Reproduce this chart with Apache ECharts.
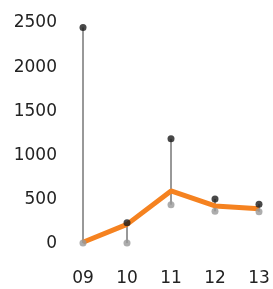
<!DOCTYPE html>
<html><head><meta charset="utf-8">
<script src="https://cdn.jsdelivr.net/npm/echarts@6/dist/echarts.min.js"></script>
<style>html,body{margin:0;padding:0;background:#fff}#c{width:273px;height:289px}</style>
</head><body><div id="c"></div>
<script>
var categories = ['09','10','11','12','13'];
var highValues = [2450, 240, 1190, 510, 450];
var lowValues = [10, 10, 445, 370, 365];
var lineValues = [20, 222, 600, 430, 400];
var yTicks = [0, 500, 1000, 1500, 2000, 2500];

var chart = echarts.init(document.getElementById('c'), null, {renderer:'canvas'});
var font = 'DejaVu Sans';
chart.setOption({
  animation:false,
  grid:{left:83, right:14, top:23, bottom:45},
  xAxis:{type:'category', data:categories, boundaryGap:false,
    axisLine:{show:false}, axisTick:{show:false},
    axisLabel:{fontFamily:font, fontSize:17, color:'#222', margin:26}},
  yAxis:{type:'value', min:yTicks[0], max:yTicks[yTicks.length-1], interval:500,
    axisLine:{show:false}, axisTick:{show:false}, splitLine:{show:false},
    axisLabel:{fontFamily:font, fontSize:17, color:'#222', margin:26,
      formatter:function(v){return String(v);}}},
  series:[
    {type:'custom', z:1,
      data: categories.map(function(c,i){return [i, lowValues[i], highValues[i]];}),
      renderItem:function(params, api){
        var p1 = api.coord([api.value(0), api.value(1)]);
        var p2 = api.coord([api.value(0), api.value(2)]);
        return {type:'line', shape:{x1:p1[0], y1:p1[1], x2:p2[0], y2:p2[1]},
          style:{stroke:'#333', lineWidth:1}};
      }},
    {type:'line', data:lineValues, z:2, symbol:'none',
      lineStyle:{color:'#F58220', width:5}},
    {type:'scatter', data:lowValues, z:3, symbolSize:7,
      itemStyle:{color:'#999'}},
    {type:'scatter', data:highValues, z:4, symbolSize:7,
      itemStyle:{color:'#1a1a1a'}}
  ]
});
</script></body></html>
